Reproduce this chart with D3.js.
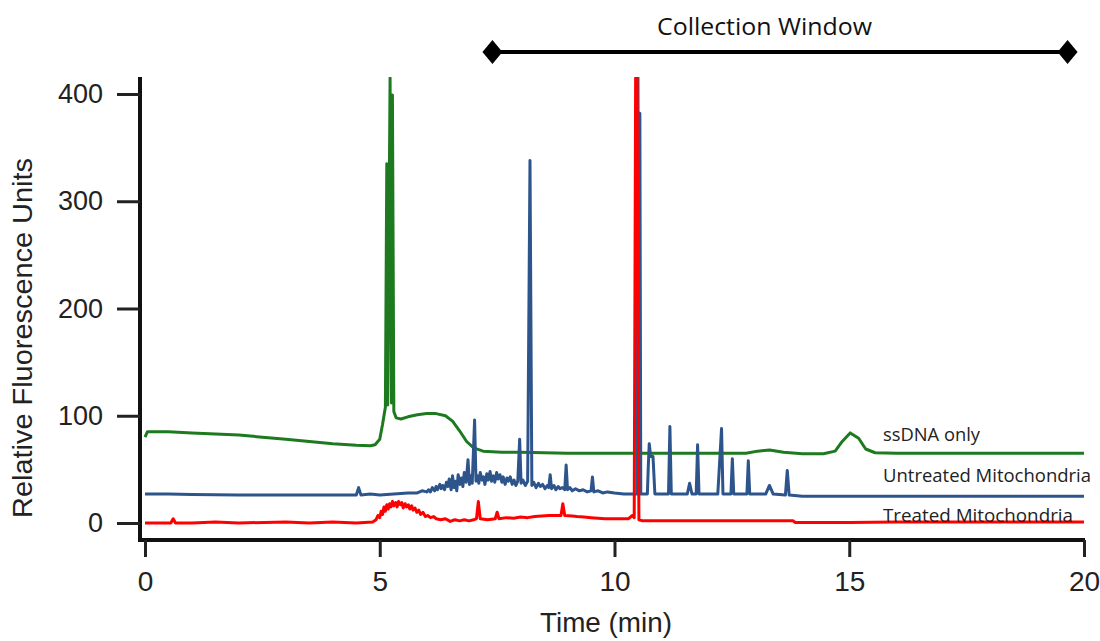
<!DOCTYPE html>
<html>
<head>
<meta charset="utf-8">
<script src="https://cdn.jsdelivr.net/npm/d3@7"></script>
<style>
  html, body { margin: 0; padding: 0; background: #fff; }
  svg { display: block; }
</style>
</head>
<body>
<svg id="chart" width="1100" height="641"></svg>
<script>
// Electropherogram traces: [time (min), relative fluorescence units]
const ssDNAOnly = [
  [0, 80], [0.05, 85], [0.5, 85], [1, 84], [1.5, 83], [2, 82], [2.5, 80], [3, 78],
  [3.5, 76], [4, 74], [4.5, 72.5], [4.8, 72], [4.9, 73], [5.0, 78], [5.06, 92],
  [5.12, 108], [5.15, 335], [5.17, 110], [5.22, 415], [5.25, 112], [5.27, 399],
  [5.3, 104], [5.35, 98], [5.45, 97], [5.6, 99], [5.8, 101], [6.0, 102], [6.2, 102],
  [6.4, 100], [6.55, 95], [6.7, 86], [6.85, 76], [7.0, 70], [7.2, 67], [7.6, 66],
  [8, 66], [9, 65], [10, 65], [11, 65], [12, 65], [12.8, 65], [13.05, 67], [13.3, 68],
  [13.6, 66], [14, 64.5], [14.45, 64.5], [14.7, 67], [14.85, 76], [15.02, 84],
  [15.2, 79], [15.35, 69], [15.55, 65.5], [16, 65], [17, 65], [18, 65], [19, 65], [20, 65]
];

const untreatedMito = [
  [0, 27], [0.5, 27], [1, 26.5], [2, 26], [3, 26], [4, 26], [4.5, 26], [4.55, 33],
  [4.6, 26], [4.8, 27], [5.0, 26], [5.3, 27], [5.6, 28], [5.8, 28], [5.9, 30],
  [6.0, 29], [6.04, 31], [6.08, 29], [6.12, 33], [6.17, 30], [6.2, 34], [6.23, 31],
  [6.28, 36], [6.31, 32], [6.34, 35], [6.38, 31], [6.42, 38], [6.45, 34], [6.48, 41],
  [6.52, 31], [6.55, 44], [6.58, 33], [6.61, 39], [6.64, 30], [6.67, 45], [6.71, 36],
  [6.74, 42], [6.77, 34], [6.8, 47], [6.84, 38], [6.88, 59], [6.91, 36], [6.94, 44],
  [6.97, 37], [7.02, 96], [7.05, 39], [7.08, 44], [7.11, 37], [7.14, 47], [7.18, 40],
  [7.21, 43], [7.24, 36], [7.28, 46], [7.31, 40], [7.35, 48], [7.38, 39], [7.42, 44],
  [7.45, 38], [7.49, 47], [7.52, 41], [7.56, 45], [7.6, 38], [7.63, 43], [7.67, 36],
  [7.71, 42], [7.74, 39], [7.78, 43], [7.82, 36], [7.86, 40], [7.9, 35], [7.94, 39],
  [7.98, 78], [8.01, 37], [8.05, 40], [8.1, 35], [8.15, 39], [8.2, 338], [8.24, 35],
  [8.28, 38], [8.33, 33], [8.38, 37], [8.42, 34], [8.47, 36], [8.52, 32], [8.57, 35],
  [8.6, 33], [8.63, 45], [8.66, 32], [8.71, 35], [8.75, 31], [8.8, 34], [8.84, 32],
  [8.89, 33], [8.94, 31], [8.97, 54], [9.0, 31], [9.05, 33], [9.1, 30], [9.17, 32],
  [9.25, 30], [9.33, 31], [9.42, 29], [9.5, 30], [9.53, 43], [9.56, 29], [9.65, 30],
  [9.75, 28], [9.85, 29], [10.0, 28], [10.2, 27], [10.48, 27], [10.5, 415], [10.52, 27],
  [10.54, 382], [10.56, 27], [10.7, 27], [10.72, 53], [10.74, 74], [10.77, 62],
  [10.82, 62], [10.86, 27], [11.0, 27], [11.15, 27], [11.18, 90], [11.21, 27],
  [11.55, 27], [11.6, 37], [11.65, 27], [11.74, 27], [11.77, 73], [11.8, 27],
  [12.2, 27], [12.28, 88], [12.31, 27], [12.48, 27], [12.51, 60], [12.54, 27],
  [12.82, 27], [12.85, 58], [12.88, 27], [13.22, 27], [13.3, 35], [13.38, 27],
  [13.64, 26], [13.68, 49], [13.72, 26], [14, 25], [15, 25], [16, 25], [17, 25],
  [18, 25], [19, 25], [20, 25]
];

const treatedMito = [
  [0, 0], [0.55, 0], [0.6, 4], [0.65, 0], [1, 0], [1.5, 1], [2, 0], [3, 1], [3.5, 0],
  [4, 1], [4.5, 0], [4.85, 1], [4.92, 3], [4.96, 7], [5.0, 5], [5.03, 11], [5.06, 8],
  [5.09, 15], [5.12, 11], [5.15, 17], [5.18, 13], [5.21, 18], [5.24, 15], [5.27, 20],
  [5.3, 16], [5.34, 19], [5.37, 15], [5.4, 20], [5.44, 17], [5.47, 19], [5.5, 14],
  [5.54, 18], [5.57, 15], [5.61, 17], [5.64, 13], [5.68, 16], [5.71, 12], [5.75, 14],
  [5.79, 10], [5.83, 12], [5.87, 8], [5.92, 10], [5.97, 6], [6.02, 7], [6.08, 5],
  [6.15, 6], [6.2, 4], [6.3, 3], [6.4, 4], [6.5, 1.5], [6.6, 3], [6.7, 2], [6.8, 3],
  [6.9, 2], [7.0, 3], [7.06, 4], [7.1, 20], [7.14, 4], [7.3, 3], [7.46, 4], [7.5, 10],
  [7.54, 4], [7.7, 5], [7.85, 4.5], [8.0, 5.5], [8.15, 5], [8.3, 6], [8.45, 6.5],
  [8.6, 7], [8.86, 7], [8.9, 18], [8.94, 7], [9.1, 6.5], [9.2, 6], [9.35, 5.5],
  [9.5, 5], [9.65, 4.5], [9.8, 4], [10.1, 4], [10.3, 4], [10.38, 7], [10.42, 5],
  [10.45, 415], [10.48, 415], [10.52, 3], [10.6, 2], [11, 2], [12, 2], [13, 2],
  [13.8, 2], [13.85, 0.5], [15, 0.5], [16, 1], [17, 1], [18, 1], [19, 1], [20, 1]
];

const xTicks = [0, 5, 10, 15, 20];
const yTicks = [0, 100, 200, 300, 400];
const collectionWindow = [7.4, 19.65];

const traces = [
  { name: "ssDNA only", data: ssDNAOnly, color: "#1d7a1f" },
  { name: "Untreated Mitochondria", data: untreatedMito, color: "#2d558c" },
  { name: "Treated Mitochondria", data: treatedMito, color: "#ff0000" }
];

const svg = d3.select("#chart");
const x = d3.scaleLinear().domain([0, 20]).range([145, 1084]);
const y = d3.scaleLinear().domain([0, 400]).range([523, 94]);

const plotTop = 77, plotBottom = 540, axisLeft = 140, axisRight = 1085;

svg.append("defs").append("clipPath").attr("id", "plot-clip")
  .append("rect")
  .attr("x", axisLeft).attr("y", plotTop)
  .attr("width", axisRight - axisLeft + 20).attr("height", plotBottom - plotTop);

// Traces
const line = d3.line().x(d => x(d[0])).y(d => y(d[1]));
const traceG = svg.append("g").attr("clip-path", "url(#plot-clip)");
traces.forEach(t => {
  traceG.append("path")
    .datum(t.data)
    .attr("d", line)
    .attr("fill", "none")
    .attr("stroke", t.color)
    .attr("stroke-width", 3)
    .attr("stroke-linejoin", "round")
    .attr("stroke-linecap", "butt");
});

// Axes
const axisColor = "#111";
svg.append("line")
  .attr("x1", axisLeft).attr("x2", axisLeft)
  .attr("y1", plotTop).attr("y2", plotBottom + 1)
  .attr("stroke", axisColor).attr("stroke-width", 4);
svg.append("line")
  .attr("x1", axisLeft - 2).attr("x2", axisRight)
  .attr("y1", plotBottom).attr("y2", plotBottom)
  .attr("stroke", axisColor).attr("stroke-width", 4);

const yAxis = d3.axisLeft(y).tickValues(yTicks).tickSize(23).tickPadding(14);
const yG = svg.append("g").attr("transform", `translate(${axisLeft},0)`).call(yAxis);
yG.select(".domain").remove();
yG.selectAll(".tick line").attr("stroke", "#222").attr("stroke-width", 3);
yG.selectAll(".tick text")
  .attr("font-family", "'Liberation Sans', Arial, sans-serif")
  .attr("font-size", 27).attr("fill", "#222");

const xAxis = d3.axisBottom(x).tickValues(xTicks).tickSize(17).tickPadding(14);
const xG = svg.append("g").attr("transform", `translate(0,${plotBottom})`).call(xAxis);
xG.select(".domain").remove();
xG.selectAll(".tick line").attr("stroke", "#222").attr("stroke-width", 3);
xG.selectAll(".tick text")
  .attr("font-family", "'Liberation Sans', Arial, sans-serif")
  .attr("font-size", 28).attr("fill", "#222");

// Axis titles
svg.append("text")
  .attr("transform", "translate(32,338) rotate(-90)")
  .attr("text-anchor", "middle")
  .attr("textLength", 360).attr("lengthAdjust", "spacingAndGlyphs")
  .attr("font-family", "'Liberation Sans', Arial, sans-serif")
  .attr("font-size", 28).attr("fill", "#222")
  .text("Relative Fluorescence Units");

svg.append("text")
  .attr("x", 606).attr("y", 632)
  .attr("text-anchor", "middle")
  .attr("textLength", 132).attr("lengthAdjust", "spacingAndGlyphs")
  .attr("font-family", "'Liberation Sans', Arial, sans-serif")
  .attr("font-size", 28).attr("fill", "#222")
  .text("Time (min)");

// Collection window bar with diamond ends
const cwY = 52;
const cwG = svg.append("g");
cwG.append("line")
  .attr("x1", x(collectionWindow[0])).attr("x2", x(collectionWindow[1]))
  .attr("y1", cwY).attr("y2", cwY)
  .attr("stroke", "#000").attr("stroke-width", 4);
collectionWindow.forEach(t => {
  const cx = x(t);
  cwG.append("path")
    .attr("d", `M${cx - 10},${cwY} L${cx},${cwY - 12} L${cx + 10},${cwY} L${cx},${cwY + 12} Z`)
    .attr("fill", "#000");
});
cwG.append("text")
  .attr("x", 657).attr("y", 35)
  .attr("textLength", 215).attr("lengthAdjust", "spacingAndGlyphs")
  .attr("font-family", "'Open Sans', sans-serif")
  .attr("font-size", 24).attr("fill", "#111")
  .text("Collection Window");

// Trace labels
const labels = [
  { text: "ssDNA only", y: 441, len: 97 },
  { text: "Untreated Mitochondria", y: 482, len: 208 },
  { text: "Treated Mitochondria", y: 522, len: 190 }
];
svg.append("g").selectAll("text").data(labels).join("text")
  .attr("x", 883).attr("y", d => d.y)
  .attr("textLength", d => d.len).attr("lengthAdjust", "spacingAndGlyphs")
  .attr("font-family", "'Open Sans', sans-serif")
  .attr("font-size", 18.5).attr("fill", "#222")
  .text(d => d.text);
</script>
</body>
</html>
